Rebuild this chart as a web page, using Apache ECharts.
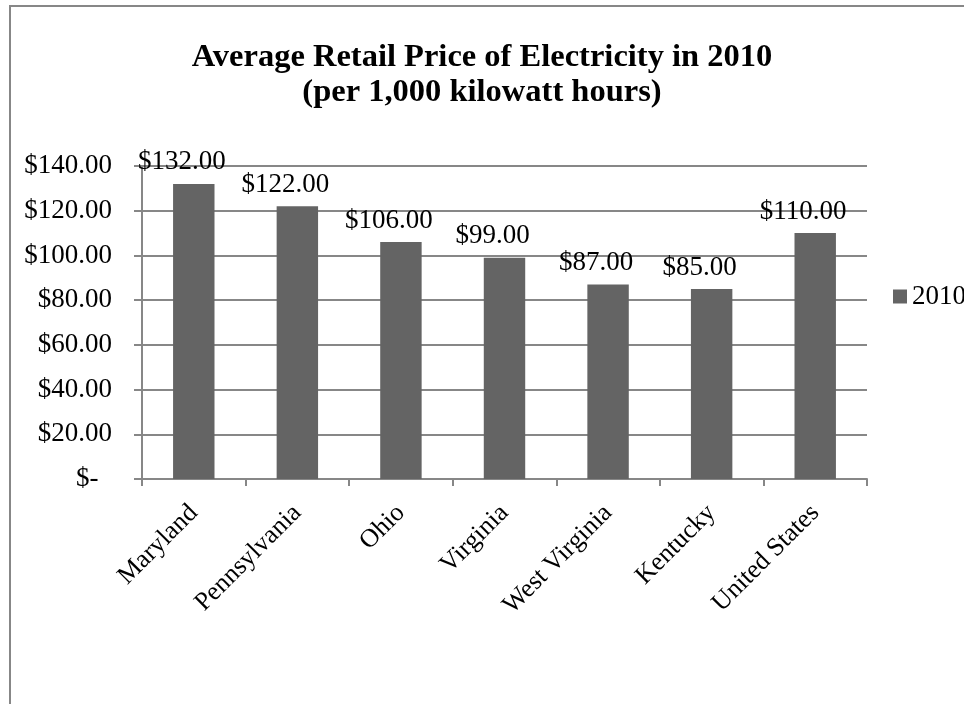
<!DOCTYPE html>
<html>
<head>
<meta charset="utf-8">
<style>
  html, body { margin: 0; padding: 0; background: #fff; }
  #main { width: 964px; height: 704px; }
</style>
<script src="https://cdn.jsdelivr.net/npm/echarts@6/dist/echarts.min.js"></script>
</head>
<body>
<div id="main"></div>
<script>
// states / national average
var categories = ['Maryland', 'Pennsylvania', 'Ohio', 'Virginia', 'West Virginia', 'Kentucky', 'United States'];
// price per 1,000 kWh, 2010
var prices2010 = [132, 122, 106, 99, 87, 85, 110];
var seriesName = '2010';
var yTicks = [0, 20, 40, 60, 80, 100, 120, 140];

var serif = "'Liberation Serif', 'Times New Roman', serif";
var gray = '#878787';

function money(v) {
  if (v === 0) return '$-  ';
  return '$' + v.toFixed(2);
}

var chart = echarts.init(document.getElementById('main'));

chart.setOption({
  animation: false,
  textStyle: { fontFamily: serif },
  title: {
    text: 'Average Retail Price of Electricity in 2010\n(per 1,000 kilowatt hours)',
    left: 'center',
    top: 35,
    textStyle: {
      fontFamily: serif,
      fontWeight: 'bold',
      fontSize: 32.5,
      lineHeight: 35,
      color: '#000'
    }
  },
  legend: {
    data: [seriesName],
    left: 893,
    top: 283,
    padding: 0,
    itemWidth: 14,
    itemHeight: 14,
    itemGap: 5,
    icon: 'rect',
    textStyle: { fontFamily: 'Liberation Serif', fontSize: 27, color: '#000' }
  },
  grid: {
    left: 142,
    right: 97,
    top: 166,
    bottom: 225
  },
  xAxis: {
    type: 'category',
    data: categories,
    axisLine: { lineStyle: { color: gray, width: 2 } },
    axisTick: { show: true, length: 7, lineStyle: { color: gray, width: 2 } },
    axisLabel: {
      rotate: 45,
      margin: 30,
      interval: 0,
      fontFamily: serif,
      fontSize: 26,
      color: '#000'
    }
  },
  yAxis: {
    type: 'value',
    min: yTicks[0],
    max: yTicks[yTicks.length - 1],
    interval: 20,
    axisLine: { show: true, lineStyle: { color: gray, width: 2 } },
    axisTick: { show: true, length: 8, lineStyle: { color: gray, width: 2 } },
    splitLine: { lineStyle: { color: gray, width: 2 } },
    axisLabel: {
      margin: 30,
      fontFamily: serif,
      fontSize: 27,
      color: '#000',
      formatter: money
    }
  },
  series: [{
    name: seriesName,
    type: 'bar',
    data: prices2010,
    barWidth: '40%',
    itemStyle: { color: '#646464' },
    label: {
      show: true,
      position: 'top',
      distance: 8,
      offset: [-12, 0],
      fontFamily: serif,
      fontSize: 27,
      color: '#000',
      formatter: function (p) { return money(p.value); }
    }
  }],
  graphic: [{
    type: 'rect',
    silent: true,
    shape: { x: 10, y: 6, width: 1000, height: 800 },
    style: { fill: 'none', stroke: gray, lineWidth: 2 }
  }]
});
</script>
</body>
</html>
